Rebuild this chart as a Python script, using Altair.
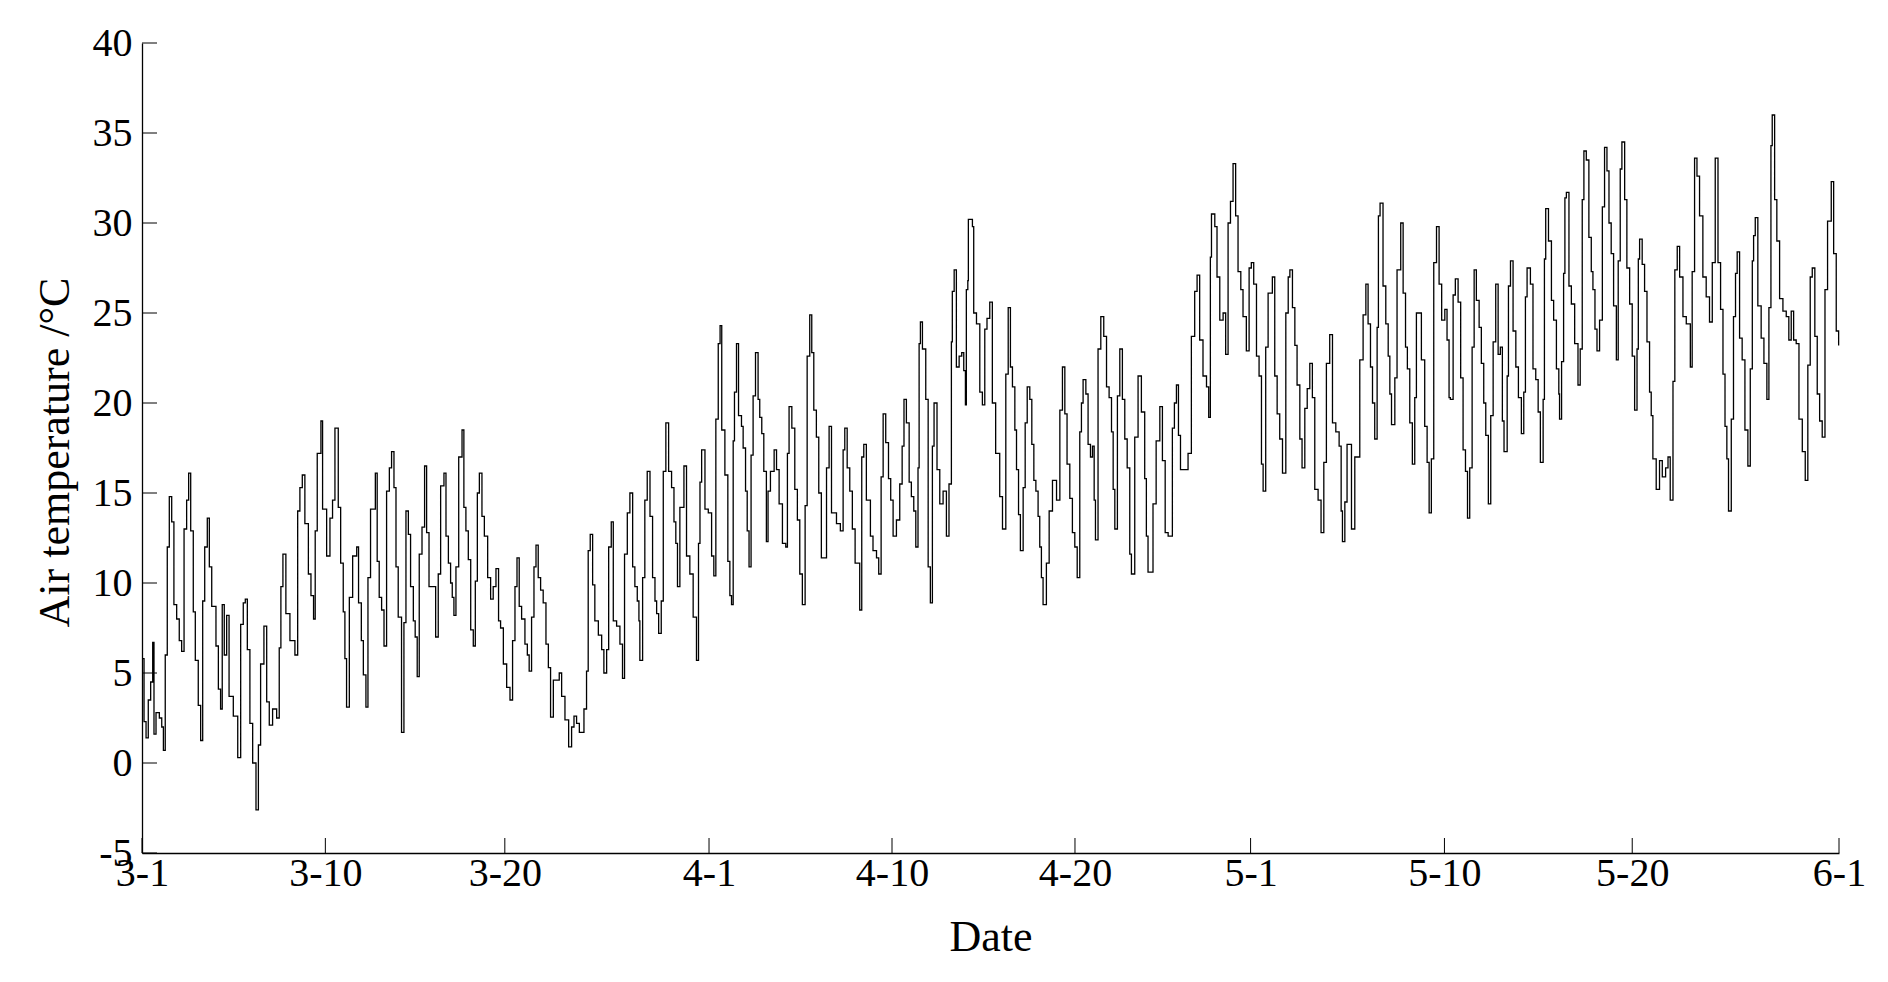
import altair as alt
import pandas as pd

# time in days since 3-1 00:00, air temperature in degC
d_0301 = [0.00, 0.11, 0.22, 0.34, 0.47, 0.58, 0.65, 0.76, 0.94, 1.07, 1.16, 1.26, 1.37, 1.48, 1.61, 1.73, 1.88, 2.02, 2.15, 2.28,
          2.42, 2.53, 2.64, 2.78, 2.89, 3.05, 3.18, 3.29, 3.40, 3.54, 3.65, 3.78, 4.01, 4.14, 4.26, 4.35, 4.46, 4.59, 4.72, 4.95,
          5.19, 5.35, 5.49, 5.60, 5.71, 5.85, 6.00, 6.18, 6.31, 6.43, 6.61, 6.76, 6.90, 7.08, 7.30, 7.44, 7.53, 7.64, 7.80, 8.02,
          8.29, 8.44, 8.56, 8.69, 8.83, 9.02, 9.16, 9.30, 9.39, 9.50, 9.70, 9.79, 10.01, 10.19, 10.33, 10.46, 10.64, 10.77, 10.91, 11.00,
          11.09, 11.24, 11.42, 11.64, 11.74, 11.89, 12.00, 12.14, 12.25, 12.39, 12.65, 12.75, 12.86, 12.99, 13.12, 13.26, 13.41, 13.53, 13.66, 13.77,
          13.89, 14.07, 14.20, 14.31, 14.44, 14.56, 14.71, 14.81, 14.92, 15.03, 15.18, 15.32, 15.43, 15.56]
v_0301 = [5.8, 2.3, 1.4, 3.5, 4.5, 6.7, 1.6, 2.8, 2.5, 2.0, 0.7, 6.0, 12.0, 14.8, 13.4, 8.8, 8.0, 6.8, 6.2, 13.0,
          14.6, 16.1, 12.9, 8.4, 5.7, 3.2, 1.25, 9.0, 12.0, 13.6, 10.9, 8.7, 6.5, 4.1, 3.0, 8.8, 6.0, 8.2, 3.7, 2.6,
          0.3, 7.7, 8.9, 9.1, 6.3, 2.2, 0.0, -2.6, 1.0, 5.5, 7.6, 3.4, 2.1, 3.0, 2.5, 6.4, 9.8, 11.6, 8.3, 6.8,
          6.0, 14.0, 15.3, 16.0, 13.3, 10.5, 9.3, 8.0, 12.9, 17.2, 19.0, 14.1, 11.5, 13.6, 14.6, 18.6, 14.2, 11.1, 8.4, 5.8,
          3.1, 9.2, 11.5, 12.0, 8.9, 6.8, 4.9, 3.1, 10.3, 14.1, 16.1, 11.2, 9.2, 8.5, 6.5, 15.1, 16.4, 17.3, 15.3, 10.9,
          8.1, 1.7, 7.8, 14.0, 12.7, 9.8, 7.9, 7.0, 4.8, 11.6, 13.1, 16.5, 12.8, 9.8]

d_0316 = [15.92, 16.06, 16.19, 16.37, 16.48, 16.61, 16.73, 16.82, 16.91, 17.02, 17.17, 17.35, 17.45, 17.56, 17.69, 17.82, 17.96, 18.07, 18.18, 18.29,
          18.43, 18.56, 18.74, 18.90, 19.04, 19.19, 19.33, 19.44, 19.59, 19.77, 19.95, 20.09, 20.22, 20.33, 20.45, 20.58, 20.76, 20.89, 20.99, 21.12,
          21.25, 21.36, 21.48, 21.61, 21.75, 21.90, 22.03, 22.15, 22.30, 22.48, 22.62, 22.75, 22.93, 23.13, 23.29, 23.42, 23.56, 23.71, 23.96, 24.10,
          24.19, 24.30, 24.43, 24.55, 24.74, 24.92, 25.04, 25.19, 25.30, 25.44, 25.55, 25.73, 25.91, 26.05, 26.16, 26.31, 26.45, 26.60, 26.72, 26.85,
          26.94, 26.99, 27.14, 27.26, 27.39, 27.54, 27.68, 27.81, 27.90, 28.01, 28.15, 28.26, 28.40, 28.55, 28.71, 28.84, 28.94, 29.03, 29.16, 29.38,
          29.52, 29.70, 29.88, 30.06, 30.17, 30.25, 30.34, 30.52, 30.70, 30.88, 31.00, 31.11, 31.24]
v_0316 = [7.0, 10.5, 15.4, 16.1, 12.6, 11.1, 10.0, 9.2, 8.2, 10.9, 17.0, 18.5, 14.2, 12.9, 11.3, 7.4, 6.5, 10.1, 15.0, 16.1,
          13.7, 12.6, 10.3, 9.1, 9.8, 10.8, 7.9, 7.5, 5.5, 4.2, 3.5, 6.8, 9.8, 11.4, 8.7, 8.0, 6.6, 6.0, 5.1, 8.1,
          10.9, 12.1, 10.3, 9.6, 8.9, 6.6, 5.3, 2.55, 4.6, 4.6, 5.0, 3.7, 2.4, 0.9, 2.0, 2.6, 2.2, 1.7, 3.0, 5.1,
          11.8, 12.7, 9.9, 7.9, 7.1, 6.3, 5.0, 6.3, 12.0, 13.4, 7.9, 7.6, 6.6, 4.7, 11.6, 13.9, 15.0, 10.9, 9.8, 9.0,
          7.9, 5.7, 10.3, 14.6, 16.2, 13.7, 10.3, 9.0, 8.3, 7.2, 9.0, 16.2, 18.9, 16.2, 15.3, 13.4, 12.2, 9.8, 14.2, 16.5,
          11.5, 10.5, 8.1, 5.7, 12.2, 15.6, 17.4, 14.1, 13.9, 11.5, 10.4, 19.1, 23.3]

d_0401 = [31.34, 31.43, 31.60, 31.76, 31.87, 31.96, 32.05, 32.12, 32.23, 32.34, 32.50, 32.59, 32.72, 32.81, 32.91, 33.02, 33.13, 33.26, 33.40, 33.49,
          33.60, 33.71, 33.85, 33.94, 34.07, 34.27, 34.40, 34.54, 34.72, 34.90, 34.99, 35.08, 35.23, 35.39, 35.53, 35.66, 35.80, 35.95, 36.06, 36.20,
          36.31, 36.42, 36.56, 36.69, 36.83, 37.11, 37.25, 37.38, 37.65, 37.86, 38.01, 38.10, 38.23, 38.37, 38.51, 38.66, 38.91, 39.02, 39.13, 39.27,
          39.49, 39.63, 39.82, 39.94, 40.07, 40.18, 40.32, 40.47, 40.59, 40.72, 40.90, 41.08, 41.21, 41.31, 41.44, 41.59, 41.71, 41.84, 41.95, 42.07,
          42.13, 42.20, 42.31, 42.49, 42.62, 42.74, 42.85, 42.94, 43.10, 43.25, 43.43, 43.61, 43.75, 43.88, 43.93, 44.03, 44.15, 44.30, 44.44, 44.55,
          44.64, 44.69, 44.77, 44.80, 45.02, 45.09, 45.24, 45.42, 45.56, 45.69, 45.81, 45.96, 46.10, 46.28, 46.50]
v_0401 = [24.3, 18.5, 16.0, 11.2, 9.3, 8.8, 17.9, 20.6, 23.3, 19.3, 18.7, 17.5, 15.1, 12.9, 10.9, 17.1, 20.4, 22.8, 20.2, 19.2,
          18.3, 16.2, 12.3, 15.1, 16.2, 17.4, 16.3, 14.4, 12.2, 12.0, 17.2, 19.8, 18.6, 15.2, 13.5, 10.5, 8.8, 14.3, 22.6, 24.9,
          22.8, 19.6, 18.1, 15.0, 11.4, 16.4, 18.7, 13.9, 13.3, 12.9, 17.4, 18.6, 16.4, 15.1, 13.0, 11.1, 8.5, 17.0, 17.7, 14.6,
          12.6, 11.8, 11.4, 10.5, 15.9, 19.4, 17.8, 15.8, 14.6, 12.6, 13.5, 15.5, 17.6, 20.2, 18.9, 15.6, 14.8, 14.0, 12.0, 16.4,
          23.3, 24.5, 23.0, 20.2, 10.9, 8.9, 17.6, 20.0, 16.3, 14.4, 15.1, 12.6, 15.5, 23.4, 26.2, 27.4, 22.0, 22.6, 22.8, 21.8,
          19.9, 26.3, 26.8, 30.2, 29.8, 25.0, 24.4, 20.6, 19.9, 24.1, 24.7, 25.6, 20.0, 17.2, 14.8]

d_0416 = [46.65, 46.83, 46.96, 47.08, 47.19, 47.32, 47.41, 47.52, 47.62, 47.77, 47.88, 47.99, 48.13, 48.24, 48.35, 48.46, 48.58, 48.67, 48.76, 48.85,
          49.03, 49.18, 49.36, 49.58, 49.76, 49.90, 50.03, 50.15, 50.30, 50.44, 50.57, 50.70, 50.84, 50.93, 51.02, 51.17, 51.29, 51.42, 51.53, 51.62,
          51.69, 51.83, 51.98, 52.14, 52.29, 52.43, 52.56, 52.65, 52.74, 52.88, 53.01, 53.15, 53.28, 53.41, 53.55, 53.64, 53.82, 54.00, 54.18, 54.36,
          54.45, 54.54, 54.81, 54.98, 55.18, 55.32, 55.47, 55.63, 55.86, 55.97, 56.08, 56.19, 56.30, 56.44, 56.71, 56.89, 57.07, 57.20, 57.34, 57.52,
          57.71, 57.83, 57.92, 57.98, 58.16, 58.28, 58.43, 58.61, 58.75, 58.88, 59.01, 59.15, 59.29, 59.42, 59.57, 59.69, 59.87, 60.02, 60.14, 60.27,
          60.42, 60.56, 60.69, 60.78, 60.92, 61.05, 61.28, 61.41, 61.54, 61.68]
v_0416 = [13.0, 21.6, 25.3, 22.0, 20.9, 18.5, 16.3, 13.8, 11.8, 15.3, 18.9, 20.9, 20.2, 17.7, 15.7, 15.1, 13.7, 12.0, 10.3, 8.8,
          11.1, 14.0, 15.7, 14.6, 19.6, 22.0, 19.4, 16.6, 14.7, 12.8, 12.0, 10.3, 18.4, 20.0, 21.3, 20.5, 17.7, 17.0, 17.6, 14.6,
          12.4, 23.0, 24.8, 23.7, 20.9, 20.3, 18.4, 15.2, 13.0, 20.4, 23.0, 20.2, 18.0, 16.4, 11.6, 10.5, 18.1, 21.5, 19.5, 15.8,
          12.6, 10.6, 14.4, 17.9, 19.8, 16.8, 12.8, 12.6, 18.6, 20.0, 21.0, 18.2, 16.3, 16.3, 17.2, 23.7, 26.2, 27.1, 23.5, 21.5,
          20.9, 19.2, 28.1, 30.5, 29.8, 27.0, 24.6, 25.0, 22.7, 30.0, 31.2, 33.3, 30.4, 27.3, 26.3, 24.8, 22.9, 27.5, 27.8, 26.6,
          22.6, 21.5, 16.6, 15.1, 23.1, 26.1, 27.0, 21.5, 19.4, 18.0]

d_0501 = [61.83, 62.01, 62.14, 62.23, 62.37, 62.50, 62.62, 62.77, 62.89, 63.04, 63.17, 63.31, 63.45, 63.58, 63.76, 63.92, 64.07, 64.21, 64.39, 64.54,
          64.72, 64.90, 65.01, 65.08, 65.21, 65.33, 65.57, 65.75, 66.02, 66.20, 66.35, 66.47, 66.60, 66.71, 66.83, 66.96, 67.03, 67.12, 67.28, 67.43,
          67.56, 67.65, 67.74, 67.92, 68.04, 68.24, 68.37, 68.50, 68.60, 68.73, 68.87, 69.00, 69.09, 69.24, 69.36, 69.54, 69.67, 69.78, 69.90, 70.03,
          70.18, 70.32, 70.46, 70.63, 70.75, 70.86, 70.93, 71.08, 71.20, 71.35, 71.49, 71.62, 71.75, 71.86, 71.98, 72.11, 72.22, 72.34, 72.49, 72.61,
          72.74, 72.85, 72.99, 73.12, 73.25, 73.39, 73.52, 73.64, 73.75, 73.84, 74.01, 74.08, 74.19, 74.33, 74.48, 74.62, 74.78, 74.91, 75.00, 75.09,
          75.27, 75.41, 75.56, 75.69, 75.81, 75.96, 76.03, 76.10, 76.25, 76.41, 76.53, 76.68, 76.81]
v_0501 = [16.1, 25.0, 27.0, 27.4, 25.3, 23.2, 21.0, 18.0, 16.4, 19.7, 20.8, 22.2, 20.3, 15.2, 14.6, 12.8, 16.7, 22.2, 23.8, 18.9,
          18.4, 17.6, 14.0, 12.3, 14.5, 17.7, 13.0, 17.0, 22.4, 24.9, 26.6, 24.4, 22.0, 20.0, 18.0, 24.2, 30.4, 31.1, 26.5, 24.4,
          22.6, 20.5, 18.8, 21.4, 27.4, 30.0, 26.1, 23.1, 21.9, 18.9, 16.6, 20.3, 25.0, 25.0, 22.4, 18.7, 16.7, 13.9, 16.9, 27.8,
          29.8, 26.6, 24.6, 25.2, 23.5, 20.3, 20.2, 26.0, 26.9, 25.6, 21.4, 17.4, 16.2, 13.6, 16.4, 23.1, 27.4, 25.7, 24.2, 22.2,
          20.0, 18.2, 14.4, 19.3, 23.4, 26.6, 22.7, 23.1, 19.0, 17.3, 21.5, 26.5, 27.9, 24.0, 22.0, 20.3, 18.3, 20.6, 25.9, 27.5,
          26.6, 21.9, 21.3, 19.5, 16.7, 20.2, 28.0, 30.8, 29.0, 25.7, 24.6, 21.9, 20.5]

d_0516 = [76.85, 76.96, 77.07, 77.14, 77.22, 77.36, 77.49, 77.67, 77.85, 77.97, 78.08, 78.17, 78.30, 78.44, 78.57, 78.66, 78.77, 78.88, 79.02, 79.17,
          79.29, 79.42, 79.53, 79.65, 79.78, 79.93, 80.03, 80.14, 80.23, 80.38, 80.50, 80.65, 80.79, 80.92, 81.05, 81.12, 81.19, 81.33, 81.46, 81.59,
          81.73, 81.82, 81.91, 82.09, 82.27, 82.42, 82.60, 82.73, 82.85, 83.00, 83.10, 83.23, 83.36, 83.54, 83.72, 83.94, 84.04, 84.17, 84.30, 84.44,
          84.62, 84.80, 84.98, 85.13, 85.29, 85.44, 85.58, 85.71, 85.82, 85.92, 86.01, 86.16, 86.28, 86.39, 86.48, 86.61, 86.75, 86.90, 87.06, 87.19,
          87.30, 87.37, 87.46, 87.60, 87.78, 87.93, 88.09, 88.20, 88.31, 88.38, 88.51, 88.63, 88.78, 88.96, 89.14, 89.28, 89.41, 89.54, 89.68, 89.83,
          90.01, 90.17, 90.31, 90.44, 90.55, 90.69, 90.82, 90.95, 91.09, 91.24, 91.38, 91.58, 91.71, 91.85, 91.98]
v_0516 = [19.1, 22.3, 27.2, 31.4, 31.7, 26.5, 25.5, 23.3, 21.0, 23.0, 31.3, 34.0, 33.5, 29.2, 27.3, 26.3, 24.1, 22.9, 24.6, 30.9,
          34.2, 32.9, 30.0, 28.3, 25.4, 22.4, 27.9, 33.0, 34.5, 31.3, 27.5, 25.5, 22.6, 19.6, 23.0, 28.0, 29.1, 27.7, 26.2, 23.4,
          20.6, 19.3, 16.9, 15.2, 16.8, 15.9, 16.4, 17.0, 14.6, 21.2, 27.4, 28.7, 27.0, 24.8, 24.4, 22.0, 27.3, 33.6, 32.6, 30.4,
          27.0, 25.9, 24.5, 27.8, 33.6, 27.8, 25.2, 21.6, 18.7, 16.9, 14.0, 19.1, 24.8, 27.2, 28.4, 23.6, 22.4, 18.5, 16.5, 21.9,
          27.9, 29.3, 30.3, 25.4, 23.6, 22.2, 20.2, 25.3, 34.3, 36.0, 31.3, 29.0, 25.8, 25.1, 24.8, 23.5, 25.1, 23.5, 23.3, 19.1,
          17.3, 15.7, 22.1, 27.0, 27.5, 23.7, 20.5, 19.0, 18.1, 26.3, 30.1, 32.3, 28.3, 24.0, 23.2]

tick_days = [0, 9.94, 19.67, 30.74, 40.66, 50.58, 60.1, 70.61, 80.79, 92]
tick_labels = ["3-1", "3-10", "3-20", "4-1", "4-10", "4-20", "5-1", "5-10", "5-20", "6-1"]
y_ticks = [-5, 0, 5, 10, 15, 20, 25, 30, 35, 40]

days = d_0301 + d_0316 + d_0401 + d_0416 + d_0501 + d_0516
temps = v_0301 + v_0316 + v_0401 + v_0416 + v_0501 + v_0516
df = pd.DataFrame({"day": days, "temp": temps})

W, H = 1697, 810
FONT = "Liberation Serif"
TICK = 15

label_expr = ("[" + ",".join("'%s'" % s for s in tick_labels) + "][indexof(["
              + ",".join(str(t) for t in tick_days) + "], datum.value)]")

xscale = alt.Scale(domain=[0, 92], nice=False, zero=False)
yscale = alt.Scale(domain=[-5, 40], nice=False, zero=False)

x_axis = alt.Axis(values=tick_days, labelExpr=label_expr, title="Date",
                  labelPadding=0, titleY=97, titleBaseline="alphabetic")
y_axis = alt.Axis(values=y_ticks, title="Air temperature /°C", labelPadding=10,
                  labelExpr="'' + datum.value",
                  titleX=-74, titleY=H / 2 + 4, titleAngle=270,
                  titleBaseline="alphabetic", titleAlign="center")

line = alt.Chart(df).mark_line(color="black", strokeWidth=1.3, interpolate="step-after").encode(
    x=alt.X("day:Q", scale=xscale, axis=x_axis, title="Date"),
    y=alt.Y("temp:Q", scale=yscale, axis=y_axis, title="Air temperature /°C"),
)

xt = alt.Chart(pd.DataFrame({"day": tick_days})).mark_rule(color="black", strokeWidth=1).encode(
    x=alt.X("day:Q", scale=xscale, axis=x_axis, title="Date"),
    y=alt.value(H), y2=alt.value(H - TICK),
)
yt = alt.Chart(pd.DataFrame({"temp": y_ticks})).mark_rule(color="black", strokeWidth=1).encode(
    y=alt.Y("temp:Q", scale=yscale, axis=y_axis, title="Air temperature /°C"),
    x=alt.value(0), x2=alt.value(TICK),
)

chart = alt.layer(line, xt, yt).properties(
    width=W, height=H,
    autosize=alt.AutoSizeParams(type="none"),
    padding={"left": 134, "top": 35, "right": 30, "bottom": 110},
    background="white",
).configure_view(stroke=None).configure_axis(
    grid=False, ticks=False, tickSize=0,
    domainColor="black", domainWidth=1.3,
    labelFont=FONT, labelFontSize=40, labelColor="black",
    labelFlush=False, labelOverlap=False, labelBound=False,
    titleFont=FONT, titleFontSize=44, titleFontWeight="normal", titleColor="black",
)

chart.save("out.html", embed_options={"renderer": "svg", "actions": False})
